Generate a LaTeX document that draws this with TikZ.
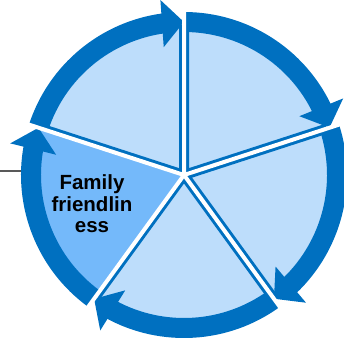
\documentclass[tikz,border=0pt]{standalone}
\usepackage{fontspec}
\setmainfont{Liberation Sans}
\usepackage{tikz}
\usetikzlibrary{arrows.meta, bending}

\definecolor{ringblue}{RGB}{0,112,192}
\definecolor{paleblue}{RGB}{189,221,251}
\definecolor{midblue}{RGB}{116,185,250}
\definecolor{leadgray}{RGB}{89,89,89}

\tikzset{
  wedgefill/.style={fill=paleblue},
  famfill/.style={fill=midblue},
  edgeline/.style={draw=ringblue, line width=10pt},
  gapline/.style={draw=white, line width=4pt},
  ringarc/.style={draw=ringblue, line width=20pt, -{Triangle[length=22pt, width=46pt]}},
  leadline/.style={draw=leadgray, line width=1.5pt}
}

\begin{document}
\begin{tikzpicture}[x=1pt, y=1pt, font=\bfseries]
  \useasboundingbox (0,0) rectangle (343,345);
  \coordinate (c) at (184,170);
  \coordinate (leadl) at (0,174);
  \coordinate (leadr) at (213,174);

  % leader line behind the pie
  \draw[leadline] (leadl) -- (leadr);

  % pale sectors
  \fill[wedgefill] (c) -- ++(162:150) arc[start angle=162, end angle=90, radius=150] -- cycle;
  \fill[wedgefill] (c) -- ++(90:150) arc[start angle=90, end angle=18, radius=150] -- cycle;
  \fill[wedgefill] (c) -- ++(18:150) arc[start angle=18, end angle=-54, radius=150] -- cycle;
  \fill[wedgefill] (c) -- ++(-54:150) arc[start angle=-54, end angle=-126, radius=150] -- cycle;

  % dark edges
  \draw[edgeline] (c) -- ++(90:150) (c) -- ++(18:150) (c) -- ++(-54:150)
    (c) -- ++(-126:150) (c) -- ++(162:150);

  % highlighted sector
  \fill[famfill] (c) -- ++(-126:150) arc[start angle=-126, end angle=-198, radius=150] -- cycle;

  % outer arrows
  \draw[ringarc] (c) ++(162:153) arc[start angle=162, end angle=90, radius=153];
  \draw[ringarc] (c) ++(90:153) arc[start angle=90, end angle=18, radius=153];
  \draw[ringarc] (c) ++(18:153) arc[start angle=18, end angle=-54, radius=153];
  \draw[ringarc] (c) ++(-54:153) arc[start angle=-54, end angle=-126, radius=153];
  \draw[ringarc] (c) ++(-126:153) arc[start angle=-126, end angle=-198, radius=153];

  % white gaps
  \draw[gapline] (c) -- ++(90:168) (c) -- ++(18:168) (c) -- ++(-54:168)
    (c) -- ++(-126:168) (c) -- ++(162:168);

  \node[align=center, font=\bfseries\fontsize{20.5}{21.5}\selectfont] (family) at (92,141) {Family\\friendlin\\ess};
\end{tikzpicture}
\end{document}
